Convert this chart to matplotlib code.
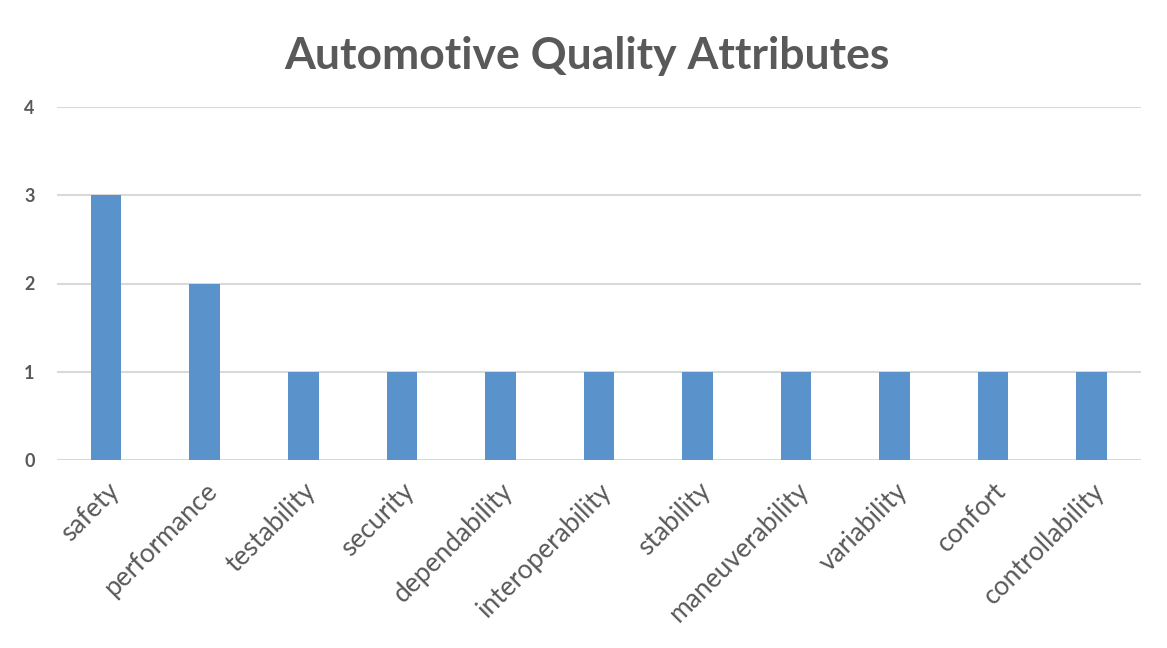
import matplotlib.pyplot as plt

attributes = ['safety', 'performance', 'testability', 'security', 'dependability',
              'interoperability', 'stability', 'maneuverability', 'variability',
              'confort', 'controllability']
counts = [3, 2, 1, 1, 1, 1, 1, 1, 1, 1, 1]
y_ticks = [0, 1, 2, 3, 4]

plt.rcParams['font.family'] = ['Lato', 'DejaVu Sans']

fig = plt.figure(figsize=(11.67, 6.48), dpi=100)
ax = fig.add_axes([0.0488, 0.2901, 0.9289, 0.5448])

ax.bar(range(len(attributes)), counts, width=0.31, color='#5a93cc', zorder=3)

ax.set_xlim(-0.5, len(attributes) - 0.5)
ax.set_ylim(0, 4)
ax.set_yticks(y_ticks)
ax.set_yticklabels([str(t) for t in y_ticks], fontsize=13, fontweight='bold', color='#595959')
ax.set_xticks(range(len(attributes)))
ax.set_xticklabels(attributes, rotation=45, ha='right', rotation_mode='anchor',
                   fontsize=19, color='#595959')
ax.tick_params(axis='both', length=0)
ax.tick_params(axis='y', pad=16)
ax.tick_params(axis='x', pad=13)

ax.grid(axis='y', color='#d9d9d9', linewidth=1.5, zorder=0)
for s in ax.spines.values():
    s.set_visible(False)

fig.text(0.503, 0.913, 'Automotive Quality Attributes', ha='center', va='center',
         fontsize=32, fontweight='bold', color='#595959')

fig.savefig('out.png', dpi=100)
